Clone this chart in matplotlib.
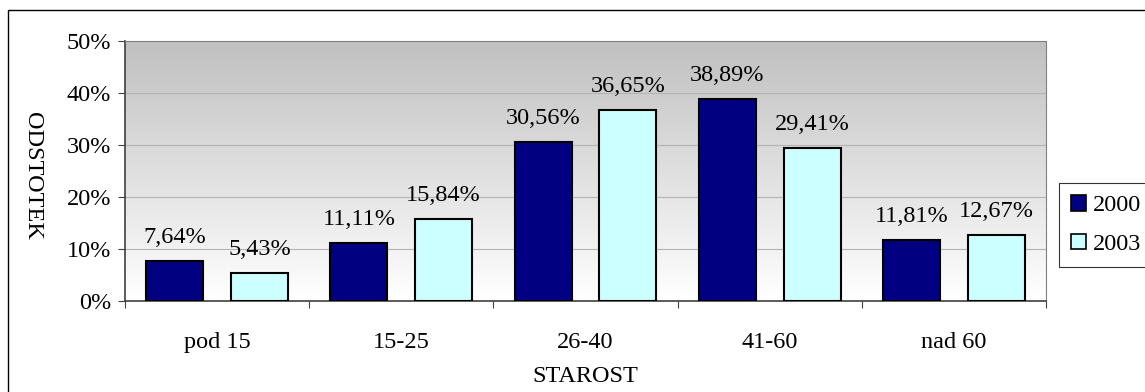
import numpy as np
import matplotlib.pyplot as plt
from matplotlib.colors import LinearSegmentedColormap
from matplotlib.patches import Rectangle

plt.rcParams['font.family'] = ['Liberation Serif', 'DejaVu Serif']

# starostne skupine in deleži (v %)
skupine = ['pod 15', '15-25', '26-40', '41-60', 'nad 60']
leto_2000 = [7.64, 11.11, 30.56, 38.89, 11.81]
leto_2003 = [5.43, 15.84, 36.65, 29.41, 12.67]
leta = ['2000', '2003']
barve = ['#000080', '#CCFFFF']

W, H = 1145, 392
fs = 17.5
fig = plt.figure(figsize=(W / 100, H / 100), dpi=100)

# okvir okrog celotnega grafa
fig.patches.append(Rectangle((8 / W, -0.2), 1.2, 1.2 - 10 / H,
                             transform=fig.transFigure, fill=False,
                             edgecolor='black', linewidth=1.0))

ax = fig.add_axes([125 / W, 1 - 301 / H, 921 / W, 260 / H])

# sivi preliv v ozadju (temnejši zgoraj)
grad = np.linspace(0, 1, 256).reshape(-1, 1)
preliv = LinearSegmentedColormap.from_list('preliv', ['#ffffff', '#c0c0c0'])
ax.imshow(grad, cmap=preliv, extent=[-0.5, 4.5, 0, 50], origin='lower',
          aspect='auto', zorder=0)

x = np.arange(len(skupine))
sirina = 0.31
odmik = 0.23
for vrednosti, zamik, barva, leto in zip([leto_2000, leto_2003], [-odmik, odmik], barve, leta):
    stolpci = ax.bar(x + zamik, vrednosti, sirina, color=barva, edgecolor='black',
                     linewidth=1.5, label=leto, zorder=3)
    for s, v in zip(stolpci, vrednosti):
        ax.annotate(f'{v:.2f}%'.replace('.', ','),
                    (s.get_x() + s.get_width() / 2, v),
                    xytext=(0, 13), textcoords='offset points',
                    ha='center', va='baseline', fontsize=fs)

ax.set_xlim(-0.5, 4.5)
ax.set_ylim(0, 50)
ax.set_yticks(np.arange(0, 51, 10))
ax.set_yticklabels([f'{int(t)}%' for t in np.arange(0, 51, 10)], fontsize=fs)
ax.yaxis.grid(True, color='#b4b4b4', linewidth=0.8, zorder=1)
ax.set_axisbelow(True)

# oznake kategorij na sredini, kljukice na mejah
ax.set_xticks(np.arange(-0.5, 5, 1))
ax.set_xticklabels([])
ax.set_xticks(x, minor=True)
ax.set_xticklabels(skupine, minor=True, fontsize=fs)
ax.tick_params(axis='x', which='minor', length=0, pad=22)
ax.tick_params(axis='x', which='major', length=5, direction='out', color='#404040')
ax.tick_params(axis='y', length=5, direction='out', color='#404040', pad=5)

for strana in ['top', 'right']:
    ax.spines[strana].set_color('#808080')
for strana in ['left', 'bottom']:
    ax.spines[strana].set_color('#404040')
    ax.spines[strana].set_linewidth(1.2)

ax.set_xlabel('STAROST', fontsize=fs, labelpad=10)
fig.text(32 / W, 1 - 176 / H, 'ODSTOTEK', rotation=270, ha='center', va='center',
         fontsize=fs)

leg = fig.legend(loc='upper left', bbox_to_anchor=(1059 / W, 1 - 183 / H),
                 fontsize=fs, frameon=True, fancybox=False, edgecolor='black',
                 handlelength=0.6, handleheight=0.6, handletextpad=0.3,
                 borderpad=0.5, labelspacing=0.72, borderaxespad=0)
leg.get_frame().set_linewidth(0.8)
for h in leg.legend_handles:
    h.set_linewidth(1.2)

fig.savefig('out.png', dpi=100)
